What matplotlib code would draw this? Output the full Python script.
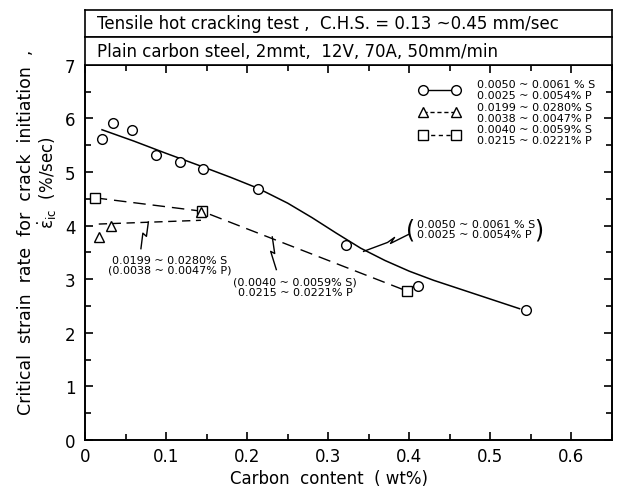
import matplotlib
matplotlib.use("Agg")
import matplotlib.pyplot as plt
from matplotlib.lines import Line2D
from matplotlib.ticker import MultipleLocator, FuncFormatter

plt.rcParams["font.family"] = ["DejaVu Sans"]
plt.rcParams["mathtext.default"] = "regular"

# ---- data ----
# low S, low P  (circles, solid fit)
c_x = [0.021, 0.035, 0.058, 0.087, 0.117, 0.145, 0.213, 0.322, 0.411, 0.544]
c_y = [5.62, 5.91, 5.78, 5.31, 5.18, 5.05, 4.69, 3.63, 2.87, 2.42]
c_fit_x = [0.021, 0.06, 0.10, 0.145, 0.18, 0.213, 0.25, 0.28, 0.31, 0.34,
           0.37, 0.40, 0.43, 0.46, 0.50, 0.536]
c_fit_y = [5.79, 5.58, 5.35, 5.10, 4.90, 4.70, 4.42, 4.15, 3.86, 3.58,
           3.35, 3.15, 2.98, 2.83, 2.63, 2.45]

# high S (triangles)
t_x = [0.017, 0.032, 0.143]
t_y = [3.79, 4.00, 4.25]
t_fit_x = [0.017, 0.143]
t_fit_y = [4.03, 4.10]

# high P (squares)
s_x = [0.012, 0.144, 0.397]
s_y = [4.52, 4.27, 2.78]
s_fit_x = [0.012, 0.144, 0.397]
s_fit_y = [4.52, 4.27, 2.78]

lab_c = "0.0050 ~ 0.0061 % S\n0.0025 ~ 0.0054% P"
lab_t = "0.0199 ~ 0.0280% S\n0.0038 ~ 0.0047% P"
lab_s = "0.0040 ~ 0.0059% S\n0.0215 ~ 0.0221% P"

fig = plt.figure(figsize=(6.18, 4.89), dpi=100)
ax = fig.add_axes([0.1375, 0.0982, 0.8528, 0.767])

mk = dict(markersize=7, markerfacecolor="white", markeredgecolor="black",
          markeredgewidth=1.0, linestyle="none")
ax.plot(c_fit_x, c_fit_y, color="black", lw=1.1)
ax.plot(t_fit_x, t_fit_y, color="black", lw=1.0, dashes=(6, 4))
ax.plot(s_fit_x, s_fit_y, color="black", lw=1.0, dashes=(9, 5))
ax.plot(c_x, c_y, marker="o", **mk)
ax.plot(s_x, s_y, marker="s", **mk)
ax.plot(t_x, t_y, marker="^", **dict(mk, markersize=7.5))

ax.set_xlim(0, 0.65)
ax.set_ylim(0, 7)
ax.xaxis.set_major_locator(MultipleLocator(0.1))
ax.xaxis.set_minor_locator(MultipleLocator(0.05))
ax.yaxis.set_major_locator(MultipleLocator(1))
ax.yaxis.set_minor_locator(MultipleLocator(0.5))
ax.xaxis.set_major_formatter(FuncFormatter(lambda v, p: "0" if abs(v) < 1e-9 else f"{v:.1f}"))
ax.tick_params(which="both", direction="in", top=True, right=True, width=1.2)
ax.tick_params(which="major", length=6, labelsize=12)
ax.tick_params(which="minor", length=4)
ax.tick_params(axis="y", pad=7)
ax.tick_params(axis="x", pad=5)
for sp in ax.spines.values():
    sp.set_linewidth(1.4)

# legend
handles = [
    Line2D([], [], color="black", lw=1.0, marker="o", markersize=7,
           markerfacecolor="white", markeredgecolor="black"),
    Line2D([], [], color="black", lw=1.0, dashes=(3, 2), marker="^", markersize=7,
           markerfacecolor="white", markeredgecolor="black"),
    Line2D([], [], color="black", lw=1.0, dashes=(3, 2.5), marker="s", markersize=6.5,
           markerfacecolor="white", markeredgecolor="black"),
]
leg = ax.legend(handles, [lab_c, lab_t, lab_s], loc="upper left",
                bbox_to_anchor=(0.635, 0.962), frameon=False, fontsize=8,
                numpoints=2, handlelength=3.6, handletextpad=1.6, labelspacing=0.12,
                borderpad=0, borderaxespad=0)
for t in leg.get_texts():
    t.set_linespacing(1.15)

# annotations
ax.text(0.105, 3.27, "0.0199 ~ 0.0280% S\n(0.0038 ~ 0.0047% P)", fontsize=8,
        ha="center", va="center", linespacing=1.0)
ax.plot([0.0782, 0.0758, 0.0714, 0.0690], [4.07, 3.80, 3.86, 3.57], color="black", lw=1.0)

ax.text(0.259, 2.86, "(0.0040 ~ 0.0059% S)\n0.0215 ~ 0.0221% P", fontsize=8,
        ha="center", va="center", linespacing=1.0)
ax.plot([0.231, 0.234, 0.229, 0.236], [3.79, 3.48, 3.52, 3.18], color="black", lw=1.0)

ax.text(0.410, 3.93, "0.0050 ~ 0.0061 % S\n0.0025 ~ 0.0054% P", fontsize=8,
        ha="left", va="center", linespacing=1.0)
ax.text(0.402, 3.93, "(", fontsize=17, ha="center", va="center")
ax.text(0.560, 3.93, ")", fontsize=17, ha="center", va="center")
ax.plot([0.3436, 0.3732, 0.3818, 0.3768, 0.399], [3.52, 3.687, 3.78, 3.668, 3.836],
        color="black", lw=1.0)

# axis labels
fig.text(0.532, 0.02, "Carbon  content  ( wt%)", fontsize=12, ha="center", va="center")
fig.text(0.042, 0.524, "Critical  strain  rate  for  crack  initiation  ,", fontsize=12.5,
         rotation=90, ha="center", va="center")
fig.text(0.077, 0.626, r"$\dot{\varepsilon}_{ic}$  (%/sec)", fontsize=12,
         rotation=90, ha="center", va="center")

# header boxes
for bottom, height, txt in [(0.9223, 0.0552, "Tensile hot cracking test ,  C.H.S. = 0.13 ~0.45 mm/sec"),
                            (0.865, 0.0573, "Plain carbon steel, 2mmt,  12V, 70A, 50mm/min")]:
    hb = fig.add_axes([0.1375, bottom, 0.8528, height])
    hb.set_xticks([]); hb.set_yticks([])
    for sp in hb.spines.values():
        sp.set_linewidth(1.2)
    hb.text(0.022, 0.5, txt, fontsize=12, ha="left", va="center", transform=hb.transAxes)

fig.savefig("out.png", dpi=100, facecolor="white")
